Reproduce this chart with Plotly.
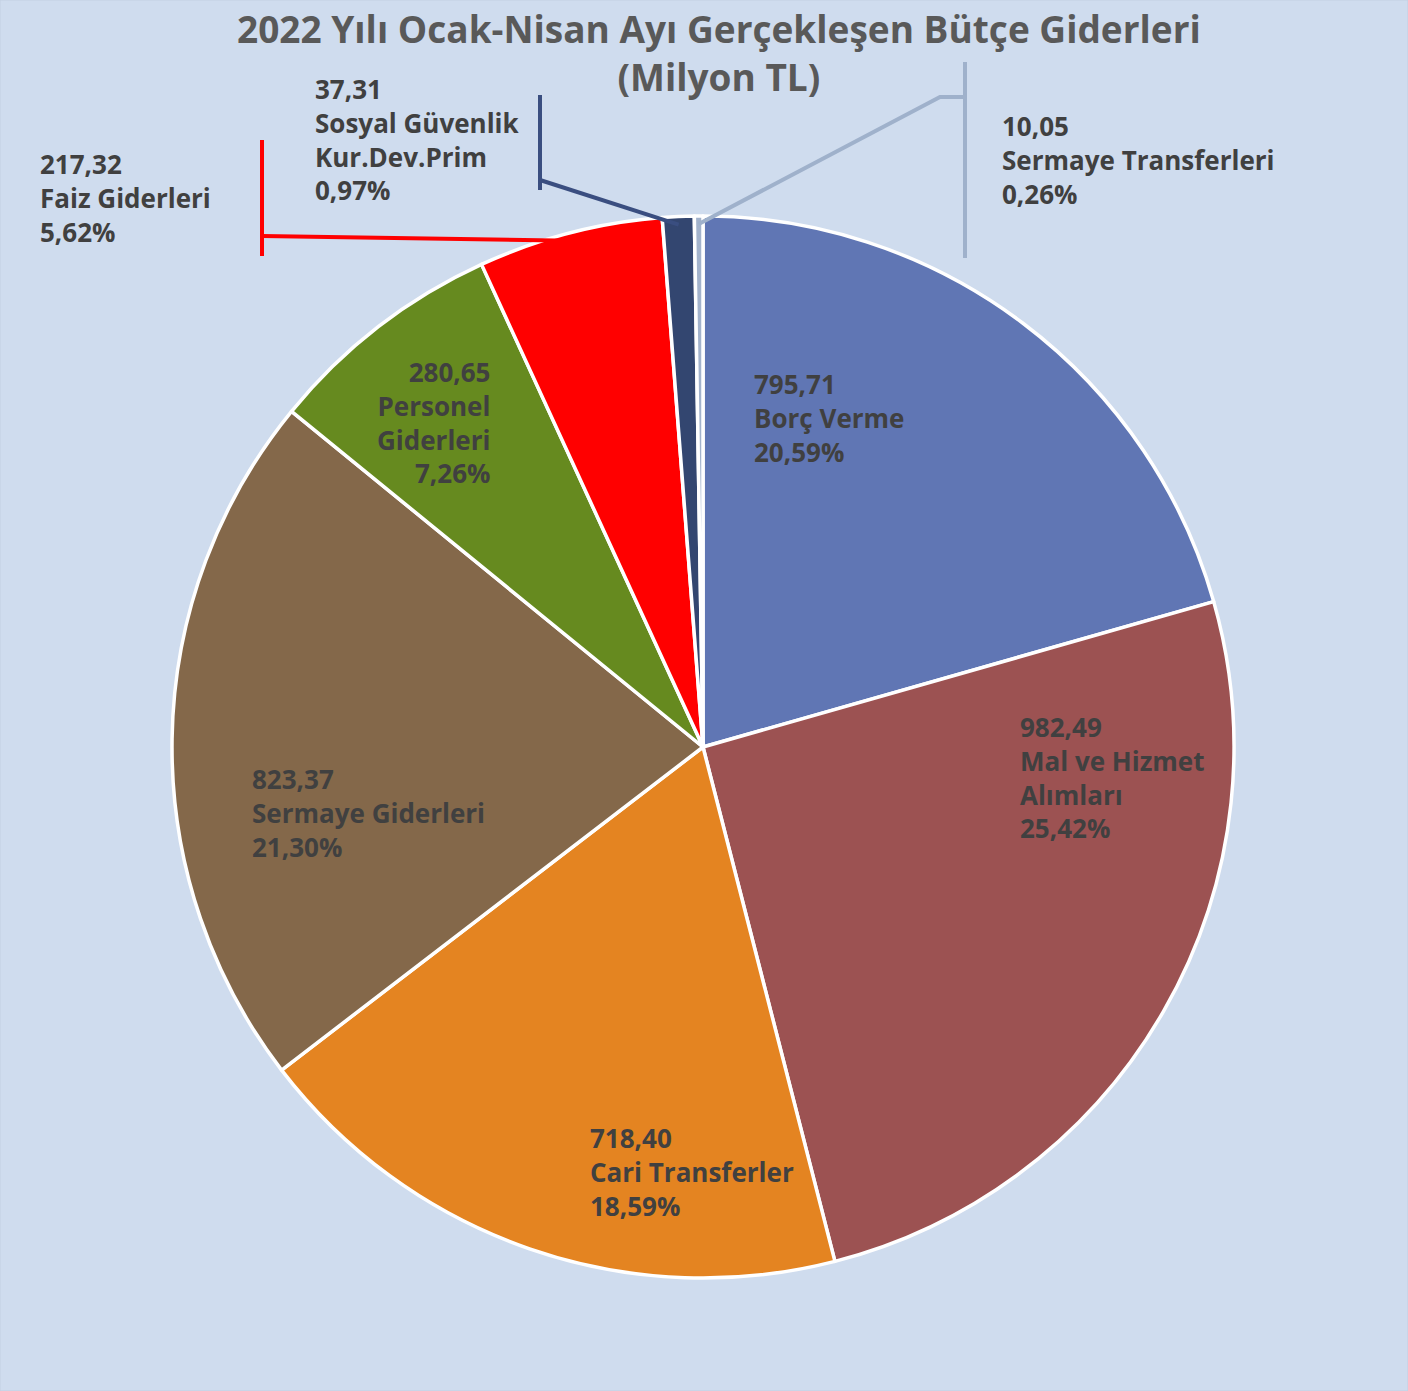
import math
import plotly.graph_objects as go

# ---- data ----
categories = ["Borç Verme", "Mal ve Hizmet Alımları", "Cari Transferler", "Sermaye Giderleri",
              "Personel Giderleri", "Faiz Giderleri", "Sosyal Güvenlik Kur.Dev.Prim",
              "Sermaye Transferleri"]
label_names = ["Borç Verme", "Mal ve Hizmet<br>Alımları", "Cari Transferler", "Sermaye Giderleri",
               "Personel<br>Giderleri", "Faiz Giderleri", "Sosyal Güvenlik<br>Kur.Dev.Prim",
               "Sermaye Transferleri"]
values = [795.71, 982.49, 718.40, 823.37, 280.65, 217.32, 37.31, 10.05]
title_text = "2022 Yılı Ocak-Nisan Ayı Gerçekleşen Bütçe Giderleri<br>(Milyon TL)"

# ---- style ----
colors = ["#6076B4", "#9C5252", "#E48421", "#84684A", "#668A1F", "#FF0000", "#334670", "#A3B3CC"]
line_colors = [None, None, None, None, None, "#FF0000", "#3A4E80", "#9FB1CB"]
W, H = 1408, 1391
CX, CY, R = 703, 747, 531
FONT = "Open Sans"
BG = "#CFDCEE"
# label anchor (px x, px y, xanchor)
label_pos = [(752, 418, "left"), (1018, 777, "left"), (588, 1172, "left"), (250, 813, "left"),
             (492, 422, "right"), (38, 198, "left"), (313, 139, "left"), (1000, 160, "left")]
# leader polylines beyond slice edge point (px) and callout bars (x, y0, y1)
leader_pts = {5: [(262, 236)], 6: [(540, 180)], 7: [(940, 97), (965, 97)]}
leader_bar = {5: (262, 140, 256), 6: (540, 95, 190), 7: (965, 62, 258)}


def px(x):
    return x / W


def py(y):
    return 1 - y / H


total = sum(values)
fig = go.Figure(go.Pie(
    labels=categories, values=values, sort=False, direction="clockwise", rotation=0,
    marker=dict(colors=colors, line=dict(color="white", width=3.5)),
    textinfo="none", hoverinfo="label+value+percent", showlegend=False,
    domain=dict(x=[px(CX - R), px(CX + R)], y=[py(CY + R), py(CY - R)]),
))

annotations = []
for i, (name, v) in enumerate(zip(label_names, values)):
    pct = v / total * 100
    txt = f"{v:.2f}".replace(".", ",") + "<br>" + name + "<br>" + f"{pct:.2f}".replace(".", ",") + "%"
    x, y, anc = label_pos[i]
    annotations.append(dict(x=px(x), y=py(y), xref="paper", yref="paper", text=txt,
                            showarrow=False, xanchor=anc, yanchor="middle", align=anc,
                            font=dict(family=FONT, size=26, color="#404040", weight="bold")))

annotations.append(dict(x=px(719), y=py(52), xref="paper", yref="paper", text=title_text,
                        showarrow=False, xanchor="center", yanchor="middle", align="center",
                        font=dict(family=FONT, size=37, color="#595959", weight="bold")))

shapes = []
cum = 0.0
for i, v in enumerate(values):
    mid = (cum + v / 2) / total * 2 * math.pi
    cum += v
    if i in leader_pts:
        sx = CX + 0.985 * R * math.sin(mid)
        sy = CY - 0.985 * R * math.cos(mid)
        pts = [(sx, sy)] + leader_pts[i]
        path = "M " + " L ".join(f"{px(a)},{py(b)}" for a, b in pts)
        shapes.append(dict(type="path", path=path, xref="paper", yref="paper",
                           line=dict(color=line_colors[i], width=4)))
        bx, b0, b1 = leader_bar[i]
        shapes.append(dict(type="line", x0=px(bx), x1=px(bx), y0=py(b0), y1=py(b1),
                           xref="paper", yref="paper", line=dict(color=line_colors[i], width=4)))

shapes.append(dict(type="rect", x0=0, x1=1, y0=0, y1=1, xref="paper", yref="paper",
                   line=dict(color="#C3CFE2", width=1), layer="below"))

fig.update_layout(width=W, height=H, margin=dict(l=0, r=0, t=0, b=0),
                  paper_bgcolor=BG, plot_bgcolor=BG,
                  annotations=annotations, shapes=shapes)
fig.write_html("out.html", config={"displayModeBar": False},
               post_script=f"document.body.style.margin='0';document.body.style.background='{BG}';")
